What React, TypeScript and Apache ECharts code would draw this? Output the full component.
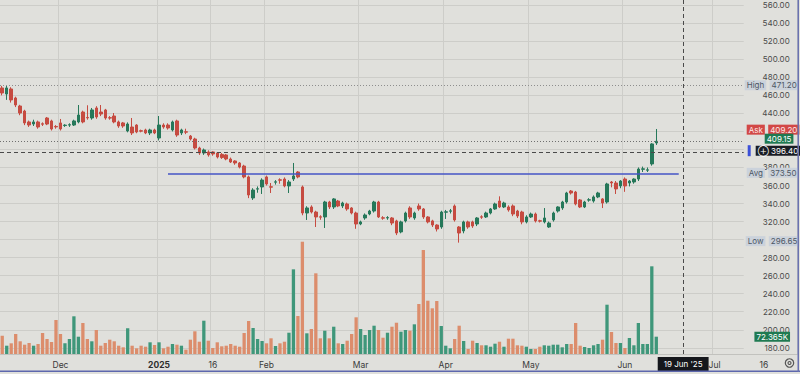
import React, { useEffect, useRef } from 'react';
import * as echarts from 'echarts';

// ---------- data ----------
const openPrices = [
  468.2, 461.5, 467.1, 457.1, 448.2, 442.6, 430.5, 428.2, 430.5, 428.5,
  434.9, 431.6, 425.5, 429.4, 426.5, 427.0, 427.1, 430.5, 441.5, 435.5,
  434.9, 446.0, 441.5, 443.8, 435.2, 437.1, 430.5, 429.4, 420.5, 424.9,
  427.1, 420.8, 421.6, 418.3, 421.6, 412.7, 427.1, 427.1, 421.6, 431.6,
  418.3, 419.6, 414.9, 411.6, 401.6, 396.1, 397.2, 397.2, 396.1, 394.5,
  393.9, 389.4, 387.2, 385.0, 381.6, 369.5, 346.2, 356.0, 358.4, 369.5,
  358.6, 363.7, 366.3, 367.2, 359.5, 367.2, 375.0, 358.4, 329.5, 336.2,
  330.6, 325.3, 325.1, 341.7, 336.2, 342.8, 337.3, 339.5, 335.1, 329.5,
  317.3, 324.0, 328.4, 331.7, 341.7, 324.2, 324.0, 324.0, 320.7, 308.5,
  320.7, 335.1, 324.0, 337.3, 334.0, 325.1, 320.7, 316.2, 314.0, 330.4,
  331.5, 337.3, 314.0, 309.6, 319.6, 319.6, 317.3, 325.3, 325.1, 329.5,
  334.0, 342.8, 336.2, 336.2, 337.3, 331.7, 330.6, 319.6, 325.1, 328.4,
  320.9, 319.6, 314.0, 321.8, 331.7, 335.1, 341.7, 353.9, 352.8, 344.0,
  336.2, 343.8, 342.8, 347.3, 345.1, 341.7, 363.9, 362.8, 359.5, 367.2,
  362.8, 363.9, 367.2, 378.0, 377.0, 383.9, 407.2,
];
const closePrices = [
  462.6, 468.2, 454.9, 449.3, 440.4, 429.4, 427.1, 430.5, 424.9, 428.0,
  428.2, 422.7, 425.0, 422.7, 427.0, 427.5, 431.6, 438.2, 430.5, 435.0,
  443.8, 436.0, 439.3, 434.9, 434.8, 430.5, 426.0, 426.0, 428.2, 418.3,
  419.4, 420.3, 418.3, 421.6, 418.3, 427.1, 424.9, 423.8, 430.5, 416.0,
  421.6, 419.2, 411.6, 401.6, 396.1, 399.4, 393.9, 395.0, 391.6, 391.0,
  389.4, 386.1, 385.0, 380.5, 369.5, 349.5, 355.0, 356.4, 366.1, 361.7,
  358.2, 364.1, 365.9, 359.5, 363.9, 370.6, 369.5, 329.5, 335.1, 330.6,
  325.1, 324.9, 341.7, 336.2, 345.1, 337.3, 340.6, 334.0, 329.5, 317.3,
  319.6, 327.3, 331.7, 341.7, 325.1, 323.8, 324.4, 318.4, 307.3, 319.6,
  329.5, 325.1, 329.5, 334.0, 325.1, 319.6, 316.2, 311.8, 330.6, 330.8,
  331.9, 321.8, 307.3, 319.6, 314.0, 315.1, 324.0, 324.9, 329.5, 334.0,
  339.5, 336.2, 340.6, 332.9, 328.4, 326.2, 319.6, 325.1, 328.4, 320.7,
  320.5, 324.0, 318.4, 329.5, 336.2, 341.7, 351.7, 351.7, 339.5, 336.2,
  341.7, 344.2, 347.3, 351.7, 340.6, 361.7, 362.8, 356.2, 365.0, 359.5,
  365.0, 367.2, 378.3, 378.5, 377.4, 406.1, 409.15,
];
const lowPrices = [
  460.0, 455.0, 452.0, 447.0, 438.0, 427.0, 425.0, 426.0, 423.0, 426.0,
  427.0, 421.0, 423.0, 421.0, 425.0, 425.0, 426.0, 429.0, 429.0, 433.0,
  433.0, 434.0, 437.0, 433.0, 433.0, 429.0, 424.0, 424.0, 419.0, 416.0,
  418.0, 419.0, 417.0, 416.0, 417.0, 410.0, 423.0, 422.0, 420.0, 414.0,
  416.0, 417.0, 410.0, 400.0, 394.0, 394.0, 392.0, 393.0, 390.0, 389.5,
  388.0, 385.0, 383.0, 379.0, 368.0, 346.0, 344.0, 352.0, 350.6, 360.0,
  351.7, 361.0, 362.0, 358.0, 351.7, 365.0, 368.0, 327.0, 321.8, 329.0,
  314.0, 322.0, 312.9, 334.0, 334.0, 336.0, 335.0, 332.0, 328.0, 312.0,
  316.0, 322.0, 327.0, 330.0, 324.0, 322.0, 322.0, 316.0, 305.0, 307.0,
  319.0, 323.0, 322.0, 332.0, 323.0, 318.0, 314.0, 309.0, 312.0, 322.9,
  329.0, 320.0, 296.65, 307.0, 312.0, 313.0, 315.0, 323.0, 324.0, 328.0,
  333.0, 335.0, 335.0, 331.0, 326.0, 324.0, 317.0, 318.0, 324.0, 319.0,
  319.0, 318.0, 313.0, 320.0, 330.0, 333.0, 340.0, 350.0, 338.0, 335.0,
  335.0, 342.0, 341.0, 346.0, 335.0, 340.0, 358.0, 350.6, 357.0, 353.0,
  359.0, 362.0, 365.0, 375.0, 375.0, 382.0, 405.0,
];
const highPrices = [
  470.5, 471.2, 469.0, 458.5, 449.5, 444.0, 432.0, 433.0, 432.0, 430.0,
  436.0, 433.0, 427.0, 433.8, 428.0, 429.0, 433.0, 449.3, 443.0, 449.0,
  446.0, 448.0, 449.3, 445.0, 437.0, 440.4, 432.0, 430.5, 430.0, 434.9,
  428.0, 422.0, 423.0, 423.0, 423.0, 437.1, 429.0, 429.0, 432.0, 433.0,
  423.0, 423.0, 416.0, 413.0, 403.0, 401.0, 399.0, 398.0, 397.0, 396.0,
  395.0, 391.0, 388.0, 386.0, 383.0, 371.0, 357.0, 359.0, 368.0, 371.0,
  362.8, 366.0, 368.0, 369.0, 366.0, 385.0, 376.0, 360.0, 337.0, 338.0,
  332.0, 327.0, 343.0, 343.0, 346.0, 344.0, 342.0, 341.0, 336.0, 331.0,
  321.0, 329.0, 333.0, 343.0, 343.0, 326.0, 326.0, 325.0, 322.0, 321.0,
  331.0, 337.0, 331.0, 340.0, 335.0, 326.0, 322.0, 317.0, 332.0, 332.9,
  334.0, 339.0, 315.0, 321.0, 321.0, 321.0, 325.0, 327.0, 331.0, 335.0,
  341.0, 348.0, 342.0, 338.0, 339.0, 333.0, 332.0, 327.0, 330.0, 330.0,
  322.0, 335.0, 320.0, 331.0, 337.0, 343.0, 353.0, 355.0, 354.0, 345.0,
  343.0, 346.0, 349.0, 353.0, 346.0, 363.0, 365.0, 365.0, 366.0, 369.0,
  366.0, 368.0, 380.0, 381.0, 380.0, 407.0, 422.7,
];
// volume in thousands
const volumesK = [
  76.5, 34.7, 44.7, 83.6, 53.1, 38.9, 46.0, 34.7, 41.8, 87.8,
  62.7, 50.2, 142.1, 83.6, 44.7, 62.7, 157.6, 72.3, 129.6, 62.7,
  53.1, 100.3, 34.7, 46.0, 59.8, 53.1, 34.7, 28.0, 107.4, 34.7,
  23.8, 34.7, 30.5, 48.9, 37.6, 48.9, 23.8, 30.5, 41.8, 38.9,
  34.7, 18.0, 59.8, 94.9, 51.4, 139.2, 55.6, 25.1, 48.9, 32.2,
  34.7, 41.8, 34.7, 30.5, 87.8, 137.9, 108.7, 62.7, 54.3, 44.7,
  65.6, 33.4, 44.7, 51.4, 89.0, 354.0, 158.8, 469.4, 86.5, 104.5,
  337.3, 65.6, 97.4, 65.6, 114.1, 44.7, 41.8, 55.6, 83.6, 153.4,
  104.5, 79.4, 100.3, 118.3, 100.3, 68.1, 89.0, 114.1, 130.8, 93.2,
  100.3, 97.4, 124.1, 209.0, 434.7, 222.8, 191.0, 221.5, 117.0, 34.7,
  23.8, 62.7, 118.3, 54.3, 20.9, 55.6, 46.0, 36.4, 36.4, 30.5,
  43.1, 51.4, 30.5, 64.0, 64.0, 36.4, 34.7, 30.5, 20.9, 20.9,
  30.5, 36.4, 34.7, 38.9, 38.9, 28.0, 41.8, 41.8, 129.6, 34.7,
  29.3, 25.1, 36.4, 41.8, 59.8, 206.1, 92.0, 46.0, 46.0, 25.1,
  66.9, 36.4, 129.6, 41.8, 41.8, 366.6, 72.365,
];

const timeTickIndex = [13, 35, 47, 59, 80, 99, 118, 139, 159, 170];
const timeTickText = ['Dec', '2025', '16', 'Feb', 'Mar', 'Apr', 'May', 'Jun', 'Jul', '16'];
// price-scale ticks that sit under the opaque price tags in the reference
const coveredPriceTicks = [300, 400, 420];

const highValue = 471.2;
const lowValue = 296.65;
const askValue = 409.2;
const lastValue = 409.15;
const avgValue = 373.5;
const crosshairPrice = 396.4;
const crosshairIndex = 152;
const crosshairDate = "19 Jun '25";
const trendStartIndex = 37;
const trendEndIndex = 151;
const lastVolumeText = '72.365K';

const PRICE_SLOTS = 166;
const TIME_SLOTS = 178;

// ---------- styles ----------
const BG = '#e0e0dc';
const GRID = '#cdcdc9';
const UP = '#26785a';
const DOWN = '#c64b41';
const VOL_UP = '#3f977a';
const VOL_DOWN = '#dc8d6c';
const FONT = 'Inter, Roboto, "DejaVu Sans", sans-serif';

const box = { fontSize: 8, lineHeight: 10, padding: [1, 2], fontFamily: FONT };
const tagRich = {
  k: { ...box, backgroundColor: '#cbd2db', color: '#4d5765' },
  v: { ...box, backgroundColor: '#cbd2db', color: '#4d5765' },
};

export default function App() {
  const ref = useRef<HTMLDivElement>(null);

  useEffect(() => {
    if (!ref.current) return;
    const chart = echarts.init(ref.current, null, { renderer: 'svg' });

    const priceCats = Array.from({ length: PRICE_SLOTS }, (_, i) => String(i));
    const timeCats = Array.from({ length: TIME_SLOTS }, (_, i) => String(i));
    const candleData = openPrices.map((o, i) => [o, closePrices[i], lowPrices[i], highPrices[i]]);
    const volData = volumesK.map((v, i) => ({
      value: v,
      itemStyle: { color: closePrices[i] >= openPrices[i] ? VOL_UP : VOL_DOWN },
    }));
    const tickMap = new Map<number, string>();
    timeTickIndex.forEach((idx, k) => tickMap.set(idx, timeTickText[k]));
    const lastVol = volumesK[volumesK.length - 1];

    const option: any = {
      animation: false,
      backgroundColor: BG,
      textStyle: { fontFamily: FONT },
      grid: [
        { left: 0, right: 56.3, top: 5.2, bottom: 26.2 },
        { left: 0, right: 2.6, top: 0, bottom: 20 },
      ],
      xAxis: [
        { type: 'category', gridIndex: 0, data: priceCats, boundaryGap: true, show: false },
        {
          type: 'category',
          gridIndex: 1,
          data: timeCats,
          boundaryGap: true,
          axisLine: { show: true, lineStyle: { color: '#c2c2be', width: 1 } },
          axisTick: { show: false },
          axisLabel: {
            interval: (i: number) => tickMap.has(i),
            formatter: (v: string) => {
              const t = tickMap.get(Number(v)) ?? '';
              return t === '2025' ? '{b|2025}' : t;
            },
            color: '#3a3a3a',
            fontSize: 8.5,
            margin: 6,
            fontFamily: FONT,
            rich: { b: { fontWeight: 'bold', fontSize: 8.5, color: '#2e2e2e', fontFamily: FONT } },
          },
          splitLine: {
            show: true,
            interval: (i: number) => tickMap.has(i) && i < PRICE_SLOTS,
            lineStyle: { color: GRID, width: 1 },
          },
        },
      ],
      yAxis: [
        {
          type: 'value',
          gridIndex: 0,
          position: 'right',
          min: 180,
          max: 560,
          interval: 20,
          axisLine: { show: false },
          axisTick: { show: false },
          axisLabel: {
            formatter: (v: number) => (coveredPriceTicks.includes(v) ? '' : v.toFixed(2)),
            align: 'right',
            margin: 46,
            fontSize: 8,
            color: '#4a4a4a',
            fontFamily: FONT,
          },
          splitLine: { show: true, lineStyle: { color: GRID, width: 1 } },
        },
        { type: 'value', gridIndex: 1, min: 0, max: 1480, show: false },
      ],
      series: [
        {
          type: 'candlestick',
          xAxisIndex: 0,
          yAxisIndex: 0,
          data: candleData,
          barWidth: 3,
          clip: false,
          itemStyle: { color: UP, color0: DOWN, borderColor: UP, borderColor0: DOWN, borderWidth: 1 },
          markLine: {
            silent: true,
            symbol: 'none',
            animation: false,
            label: { show: true, position: 'end' },
            data: [
              {
                yAxis: highValue,
                lineStyle: { color: '#8e8e8e', type: [1, 2], width: 1 },
                label: {
                  distance: 1,
                  formatter: '{k|High} {v|' + highValue.toFixed(2) + '}',
                  rich: tagRich,
                },
              },
              {
                yAxis: askValue,
                lineStyle: { color: 'rgba(0,0,0,0)', width: 0 },
                label: {
                  distance: 3,
                  offset: [0, -11.5],
                  formatter: '{k|Ask} {v|' + askValue.toFixed(2) + '}',
                  rich: {
                    k: { ...box, backgroundColor: '#d24846', color: '#fde8e8' },
                    v: { ...box, backgroundColor: '#d24846', color: '#fde8e8' },
                  },
                },
              },
              {
                yAxis: lastValue,
                lineStyle: { color: '#6f6f6f', type: [1, 2], width: 1 },
                label: {
                  distance: 21,
                  offset: [0, -2.5],
                  formatter: '{v|' + lastValue.toFixed(2) + '}',
                  rich: { v: { ...box, backgroundColor: '#1f7a52', color: '#ffffff' } },
                },
              },
              {
                yAxis: crosshairPrice,
                lineStyle: { color: '#4a4a4a', type: [4, 3], width: 1 },
                label: {
                  distance: 4,
                  offset: [0, -2],
                  formatter: '{s| }{g| }{d|\u2295 ' + crosshairPrice.toFixed(2) + '}',
                  rich: {
                    s: { width: 3, height: 11, backgroundColor: '#3c50d8' },
                    g: { width: 5 },
                    d: { ...box, backgroundColor: '#1a1d24', color: '#ffffff' },
                  },
                },
              },
              {
                yAxis: avgValue,
                lineStyle: { color: 'rgba(0,0,0,0)', width: 0 },
                label: {
                  distance: 3,
                  offset: [0, -0.5],
                  formatter: '{k|Avg} {v|' + avgValue.toFixed(2) + '}',
                  rich: tagRich,
                },
              },
              {
                yAxis: lowValue,
                lineStyle: { color: 'rgba(0,0,0,0)', width: 0 },
                label: {
                  distance: 2,
                  offset: [0, -1.5],
                  formatter: '{k|Low} {v|' + lowValue.toFixed(2) + '}',
                  rich: tagRich,
                },
              },
              [
                {
                  coord: [trendStartIndex, avgValue],
                  lineStyle: { color: '#4455c6', width: 1.5, type: 'solid' },
                  label: { show: false },
                },
                {
                  coord: [trendEndIndex, avgValue],
                  lineStyle: { color: '#4455c6', width: 1.5, type: 'solid' },
                  label: { show: false },
                },
              ],
            ],
          },
        },
        {
          type: 'bar',
          xAxisIndex: 1,
          yAxisIndex: 1,
          data: volData,
          barWidth: 3.3,
          clip: false,
          markLine: {
            silent: true,
            symbol: 'none',
            animation: false,
            data: [
              {
                xAxis: crosshairIndex,
                lineStyle: { color: '#4a4a4a', type: [4, 3], width: 1 },
                label: {
                  show: true,
                  position: 'start',
                  distance: 3,
                  formatter: crosshairDate,
                  backgroundColor: '#15171c',
                  color: '#ffffff',
                  padding: [3, 6],
                  fontSize: 8,
                  fontFamily: FONT,
                },
              },
              [
                {
                  coord: [0, lastVol],
                  lineStyle: { color: 'rgba(0,0,0,0)', width: 0 },
                  label: {
                    show: true,
                    position: 'end',
                    distance: 13,
                    formatter: '{v|' + lastVolumeText + '}',
                    rich: { v: { ...box, backgroundColor: '#1f7a52', color: '#ffffff' } },
                  },
                },
                { coord: [PRICE_SLOTS - 1, lastVol], lineStyle: { color: 'rgba(0,0,0,0)', width: 0 } },
              ],
            ],
          },
        },
      ],
      graphic: [
        {
          type: 'circle',
          shape: { cx: 789.5, cy: 363, r: 4.2 },
          style: { fill: 'none', stroke: '#555555', lineWidth: 1.2 },
          z: 10,
        },
        {
          type: 'circle',
          shape: { cx: 789.5, cy: 363, r: 1.5 },
          style: { fill: 'none', stroke: '#555555', lineWidth: 1.1 },
          z: 10,
        },
        {
          type: 'rect',
          shape: { x: 0, y: 370.5, width: 800, height: 1.5 },
          style: { fill: '#5d67ad' },
          z: 10,
        },
        {
          type: 'rect',
          shape: { x: 797.5, y: 0, width: 1.5, height: 372 },
          style: { fill: '#6a72b0' },
          z: 10,
        },
      ],
    };

    chart.setOption(option);
    return () => chart.dispose();
  }, []);

  return (
    <div
      ref={ref}
      style={{ position: 'absolute', left: 0, top: 0, width: 800, height: 374 }}
    />
  );
}
